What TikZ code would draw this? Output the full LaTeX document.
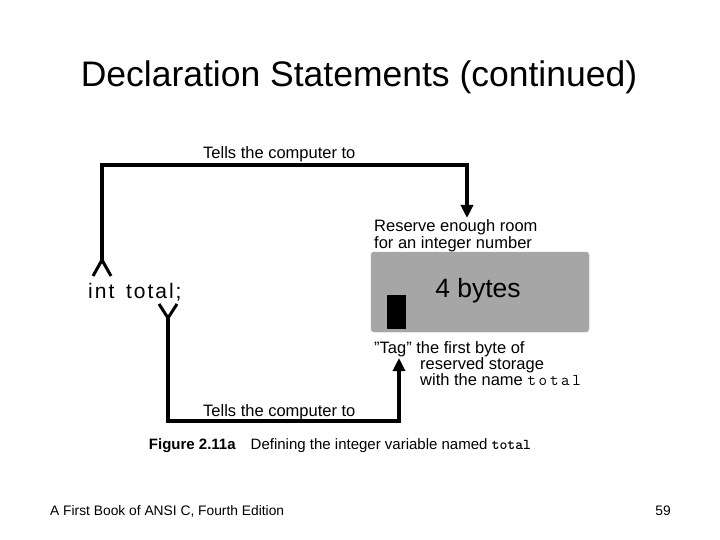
\documentclass[tikz,border=0pt]{standalone}
\usepackage{fontspec}
\setmainfont{Liberation Sans}
\usetikzlibrary{arrows.meta}
\begin{document}
\begin{tikzpicture}[x=1pt,y=-1pt,
  lbl/.style={inner sep=0pt,anchor=base west,font=\fontsize{16.5}{19}\selectfont},
  conn/.style={line width=3.5pt},
  arr/.style={conn,-{Triangle[length=13pt,width=12pt]}}]
\useasboundingbox[fill=white] (0,0) rectangle (720,540);
\node[inner sep=0pt,anchor=base] (title) at (359,87) {\fontsize{35.5}{40}\selectfont Declaration Statements (continued)};
\node[lbl,font=\fontsize{13.8}{16}\selectfont] (foot) at (50,515) {A First Book of ANSI C, Fourth Edition};
\node[lbl,anchor=base east,font=\fontsize{13.8}{16}\selectfont] (pg) at (671,515) {59};
% code
\node[lbl,font=\fontsize{21}{24}\selectfont] (code) at (88,298) {i\kern2pt n\kern2pt t\ \ t\kern2pt o\kern2pt t\kern2pt a\kern2pt l\kern2pt ;};
% box
\node[draw=gray!70,fill=black!35,rounded corners=3pt,minimum width=218pt,minimum height=80pt,inner sep=0pt] (box) at (480,292) {};
\node[fill=black,minimum width=19pt,minimum height=34pt,inner sep=0pt] (tag) at (396.5,312) {};
\node[inner sep=0pt,font=\fontsize{26.5}{30}\selectfont] (bytes) at (478,291) {4 bytes};
% labels
\node[lbl] (t1) at (203,159) {Tells the computer to};
\node[lbl] (t2) at (203,416) {Tells the computer to};
\node[lbl] (r1) at (374,232) {Reserve enough room};
\node[lbl] (r2) at (374,248) {for an integer number};
\node[lbl] (g1) at (374,353) {\symbol{34}Tag\symbol{34} the first byte of};
\node[lbl] (g2) at (420,369) {reserved storage};
\node[lbl] (g3) at (420,385) {with the name {\ttfamily t\,o\,t\,a\,l}};
\node[lbl,anchor=base,font=\fontsize{15}{18}\selectfont] (cap) at (340,449) {\textbf{Figure 2.11a}\quad Defining the integer variable named \texttt{\bfseries total}};
% connectors
\coordinate (a0) at (102,262);
\coordinate (a1) at (102,165);
\coordinate (a2) at (467,165);
\coordinate (a3) at (467,218);
\draw[arr] (a0) -- (a1) -- (a2) -- (a3);
\draw[line width=3pt] (93,276) -- (102,260) -- (111,276);
\coordinate (b0) at (168,316);
\coordinate (b1) at (168,421);
\coordinate (b2) at (399,421);
\coordinate (b3) at (399,358);
\draw[arr] (b0) -- (b1) -- (b2) -- (b3);
\draw[line width=3pt] (159,304) -- (168,318) -- (177,304);
\end{tikzpicture}
\end{document}
